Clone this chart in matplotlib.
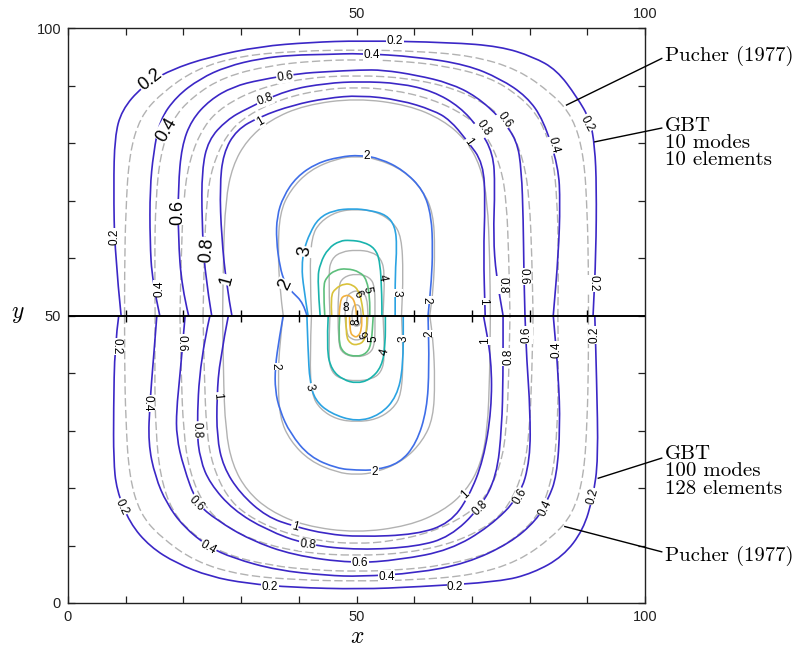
import matplotlib.pyplot as plt
import numpy as np
from matplotlib.path import Path
from matplotlib.patches import PathPatch

plt.rcParams['mathtext.fontset'] = 'cm'

# contour levels and GBT colours
levels = [0.2, 0.4, 0.6, 0.8, 1, 2, 3, 4, 5, 6, 8]
level_colors = ['#3b27c6', '#3b27c6', '#3b27c6', '#3b27c6', '#3b27c6',
                '#3f6ee8', '#2ba3e2', '#19b3ad', '#5dbf7c', '#d9c23a', '#f2b13e']

# GBT, 10 modes / 10 elements (upper half), left -> right
gbt_top_02 = [(9.2, 50), (8.1, 60.9), (7.9, 72.4), (8.1, 81.1), (9.3, 85.7), (12.8, 89.8), (17.7, 92.7),
              (24.6, 95.0), (33.3, 96.8), (41.9, 97.5), (50.6, 97.8), (66.2, 97.5), (74.9, 96.8),
              (80.6, 95.0), (84.7, 92.7), (88.2, 88.0), (90.5, 84.0), (91.3, 79.4), (91.6, 72.4),
              (91.5, 60.8), (91.0, 50)]
gbt_top_04 = [(15.9, 50), (14.6, 56), (14.2, 63), (14.2, 72), (14.8, 78.2), (15.9, 84), (18.8, 88.1),
              (22.9, 91.2), (27.5, 93.3), (33.3, 94.7), (39.0, 95.3), (44.8, 95.4), (50.6, 95.6),
              (60.4, 95.0), (69.1, 93.6), (74.9, 91.2), (79.5, 88.1), (82.4, 84.0), (85.0, 75.9),
              (85.3, 69.5), (85.0, 60.8), (84.1, 50)]
gbt_top_06 = [(20.9, 50), (19.7, 55), (19.1, 63.7), (19.1, 72.4), (19.7, 79.4), (21.4, 84), (24.6, 87.5),
              (28.6, 89.8), (33.3, 91.0), (40.2, 92.1), (44.8, 92.4), (50.6, 92.7), (54.6, 92.7),
              (60.4, 91.8), (66.2, 90.4), (70.8, 88.1), (75.0, 84.3), (77.8, 80.5), (78.6, 75.3),
              (78.9, 66.6), (79.0, 58), (79.2, 50)]
gbt_top_08 = [(24.9, 50), (23.7, 57.3), (23.2, 66.6), (23.2, 75.3), (24.3, 80.5), (27.5, 84), (31.0, 86),
              (37.9, 89.2), (44.8, 90.4), (50.6, 90.7), (57.5, 90.4), (63.3, 89.0), (67.9, 86.3),
              (71.2, 82.6), (73.7, 78.2), (74.0, 72.4), (73.7, 63.7), (74.2, 57), (75.4, 50)]
gbt_top_1 = [(28.4, 50), (27.5, 55), (26.6, 63.7), (26.3, 72.4), (26.9, 78.2), (29.2, 82.3), (33.3, 84.6),
             (39.0, 86.6), (44.8, 87.8), (50.6, 88.3), (57.5, 87.5), (63.3, 85.7), (66.2, 84),
             (69.1, 80.5), (72.0, 76.5), (72.3, 69.5), (72.0, 60.8), (72.3, 50)]
gbt_top_2 = [(41.4, 50), (40.8, 52.2), (38.8, 54.1), (37.6, 55.6), (36.7, 58.5), (36.1, 63.1), (36.2, 67.2),
             (37.3, 70.7), (39.6, 74.1), (43.1, 76.5), (47.1, 77.6), (50.6, 77.9), (54.1, 77.3),
             (58.1, 75.3), (61.6, 71.8), (63.0, 67.2), (63.2, 61.4), (63.0, 56.2), (62.4, 50)]
gbt_top_3 = [(41.6, 50), (40.8, 55), (40.5, 58.5), (40.9, 61.5), (41.9, 64.3), (43.4, 66.9), (46.0, 68.3),
             (49.4, 68.6), (52.3, 68.3), (55.2, 67.5), (56.7, 65.5), (57.0, 62.0), (56.7, 57.3), (56.7, 50)]
gbt_top_4 = [(43.7, 50), (43.2, 56.2), (43.7, 59.1), (45.1, 61.7), (47.1, 63.0), (48.9, 63.1), (51.2, 62.8),
             (53.2, 61.7), (54.1, 59.4), (54.4, 53.3), (54.4, 50)]
gbt_top_5 = [(44.5, 50), (44.2, 55), (44.8, 56.7), (46.3, 57.9), (48.3, 58.2), (50.6, 57.6), (51.8, 56.2),
             (52.3, 53), (52.3, 50)]
gbt_top_6 = [(45.7, 50), (45.5, 53.3), (46.3, 54.7), (48.0, 55.6), (49.4, 55.3), (50.3, 54.4), (50.9, 52.5),
             (51.2, 50)]
gbt_top_8 = [(47.0, 50), (47.1, 52.7), (48.0, 53.6), (49.2, 53.3), (49.8, 52), (50.0, 50)]

# GBT, 100 modes / 128 elements (lower half), left -> right
gbt_bot_02 = [(8.8, 50), (8.1, 44.8), (7.9, 33.6), (7.9, 24.9), (8.4, 19.7), (10.7, 13.9), (14.2, 9.8),
              (18.8, 6.9), (24.6, 4.6), (31.0, 3.4), (39.0, 2.7), (50.6, 2.4), (60.4, 2.8), (74.9, 3.7),
              (80.6, 5.2), (85.8, 8.1), (89.3, 12.7), (91.0, 18.5), (91.9, 24.9), (91.6, 39.4), (91.3, 50)]
gbt_bot_04 = [(15.4, 50), (14.8, 42.3), (14.2, 35), (13.9, 27.8), (15.1, 22), (17.1, 17.3), (20.0, 13.3),
              (24.3, 9.8), (28.6, 7.8), (36.2, 5.7), (44.8, 4.8), (50.6, 4.6), (60.4, 5.2), (69.1, 6.9),
              (76.6, 10.4), (81.2, 14.4), (83.2, 18), (84.7, 22), (85.3, 30.7), (85.0, 39.4), (84.1, 50)]
gbt_bot_06 = [(20.3, 50), (19.4, 39.4), (18.8, 33.6), (18.8, 28.9), (20.0, 23.7), (22.3, 17.3), (25.8, 14.4),
              (31.5, 11.0), (39.0, 8.3), (49.4, 6.9), (57.5, 7.5), (66.2, 9.2), (73.1, 13.3), (78.3, 18.5),
              (80.1, 24.9), (80.1, 33.6), (79.5, 42.3), (79.2, 50)]
gbt_bot_08 = [(24.6, 50), (22.9, 42.3), (22.3, 30.1), (22.9, 24.9), (24.6, 20.8), (28.6, 16.2), (34.4, 12.7),
              (41.4, 10.1), (50.6, 9.2), (60.4, 9.8), (66.2, 11.5), (71.4, 16.5), (74.3, 22),
              (75.2, 30.7), (75.4, 39.4), (75.4, 50)]
gbt_bot_1 = [(27.8, 50), (26.3, 42.3), (25.8, 35.9), (25.8, 28.9), (26.9, 23.7), (29.8, 19.1), (34.4, 15.0),
             (39.3, 13.3), (44.8, 12.0), (50.6, 11.5), (60.4, 11.9), (66.2, 13.9), (69.5, 18.5),
             (72.0, 24.9), (73.4, 33.6), (73.4, 42.3), (72.0, 50)]
gbt_bot_2 = [(37.3, 50), (36.6, 46), (35.9, 41), (35.9, 37), (36.7, 33.5), (38.5, 29.5), (41.9, 25.4),
             (46.6, 23.4), (50.0, 23.1), (53.2, 23.1), (57.5, 24.3), (60.4, 27.8), (62.2, 33.6),
             (62.6, 41), (62.4, 50)]
gbt_bot_3 = [(41.4, 50), (41.6, 44), (41.9, 38.5), (42.8, 35.3), (45.4, 33.0), (50.0, 31.5), (54.1, 32.7),
             (57.0, 35.9), (58.1, 41.1), (58.1, 50)]
gbt_bot_4 = [(45.1, 50), (44.8, 44), (45.7, 40.5), (47.7, 38.8), (50.0, 38.2), (52.3, 38.8), (54.4, 41.1),
             (55.0, 45), (55.0, 50)]
gbt_bot_5 = [(47.1, 50), (46.8, 45.7), (47.7, 43.4), (50.0, 42.8), (51.8, 43.4), (52.6, 45.2), (52.9, 50)]
gbt_bot_6 = [(48.2, 50), (48.1, 46.5), (49.0, 45.0), (50.3, 44.9), (51.4, 45.6), (51.8, 48), (51.8, 50)]
gbt_bot_8 = [(48.8, 50), (48.8, 47.2), (49.5, 46.3), (50.3, 46.3), (50.9, 47.6), (50.9, 50)]

# Pucher (1977), one quarter (upper left), symmetric in x and y
puch_02 = [(9.8, 50), (9.8, 58), (10.0, 68), (10.6, 78), (12.5, 84.5), (16.0, 88.5), (22.0, 92.8),
           (30.0, 95.2), (40.0, 96.0), (50.0, 96.2)]
puch_04 = [(15.1, 50), (15.0, 60), (15.2, 70), (16.0, 78), (18.0, 84), (21.5, 88), (27.0, 91.5),
           (35.0, 93.5), (43.0, 94.3), (50.0, 94.5)]
puch_06 = [(19.4, 50), (19.6, 60), (20.0, 70), (21.0, 77), (23.5, 83), (27.0, 86.5), (33.0, 89.5),
           (41.0, 91.3), (50.0, 91.8)]
puch_08 = [(23.4, 50), (23.6, 60), (24.0, 70), (25.0, 76), (27.5, 81.5), (31.0, 84.8), (37.0, 87.7),
           (44.0, 89.3), (50.0, 89.7)]
puch_1 = [(26.8, 50), (26.9, 60), (27.3, 70), (28.5, 76), (31.0, 80.5), (35.0, 84.0), (41.0, 86.6),
          (50.0, 87.8)]
puch_2 = [(37.3, 50), (36.7, 54.5), (36.4, 61.4), (36.7, 67.8), (38.5, 71.8), (41.9, 75.3), (46.6, 77.3),
          (50.0, 77.7)]
puch_3 = [(42.2, 50), (41.9, 57.3), (42.2, 63.7), (43.7, 66.3), (46.6, 68.1), (50.0, 68.5)]
puch_4 = [(45.4, 50), (45.1, 57.3), (45.7, 59.9), (47.4, 61.1), (50.0, 61.4)]
puch_5 = [(46.8, 50), (46.8, 55), (47.7, 56.7), (50.0, 57.3)]
puch_6 = [(48.0, 50), (48.2, 53.3), (49.2, 54.1), (50.0, 54.3)]
puch_8 = [(49.2, 50), (49.3, 51.5), (50.0, 52.0)]

gbt_top = [gbt_top_02, gbt_top_04, gbt_top_06, gbt_top_08, gbt_top_1, gbt_top_2,
           gbt_top_3, gbt_top_4, gbt_top_5, gbt_top_6, gbt_top_8]
gbt_bot = [gbt_bot_02, gbt_bot_04, gbt_bot_06, gbt_bot_08, gbt_bot_1, gbt_bot_2,
           gbt_bot_3, gbt_bot_4, gbt_bot_5, gbt_bot_6, gbt_bot_8]
pucher = [puch_02, puch_04, puch_06, puch_08, puch_1, puch_2,
          puch_3, puch_4, puch_5, puch_6, puch_8]

# contour labels: level, x, y, rotation, large font
clabels = [
    (0.2, 14.2, 91.0, 38, True), (0.4, 17.1, 82.3, 60, True), (0.6, 19.1, 68.0, 90, True),
    (0.8, 24.0, 61.4, 85, True), (1, 27.5, 56.2, 75, True), (2, 37.6, 55.3, 65, True),
    (3, 41.1, 61.1, 80, True),
    (0.2, 56.7, 97.7, 0, False), (0.4, 52.6, 95.3, 0, False), (0.6, 37.6, 91.5, 8, False),
    (0.8, 34.1, 87.5, 20, False), (1, 33.3, 83.7, 30, False), (0.2, 8.1, 63.7, 90, False),
    (0.4, 15.9, 54.7, 90, False), (2, 51.8, 77.7, 0, False), (0.2, 89.9, 83.4, -62, False),
    (0.4, 84.1, 79.7, -75, False), (0.6, 75.6, 84.0, -55, False), (0.8, 72.0, 82.6, -55, False),
    (1, 69.4, 80.2, -55, False), (0.2, 91.0, 55.6, -90, False), (0.6, 78.9, 56.8, -90, False),
    (0.8, 75.3, 55.3, -90, False), (1, 71.9, 52.4, -90, False), (2, 62.2, 52.7, -90, False),
    (3, 57.0, 53.9, -90, False), (4, 54.4, 56.5, -80, False), (5, 51.9, 54.4, -80, False),
    (6, 50.2, 53.6, -60, False), (8, 48.2, 51.3, 0, False),
    (0.2, 8.4, 44.6, -90, False), (0.6, 19.7, 45.2, -90, False), (0.4, 13.7, 34.7, -90, False),
    (1, 25.8, 36.0, -85, False), (0.8, 22.3, 30.1, -88, False), (2, 35.9, 41.1, -90, False),
    (3, 41.9, 37.5, -75, False), (0.2, 9.3, 16.7, -65, False), (0.6, 22.3, 17.3, -45, False),
    (0.4, 24.3, 9.7, -30, False), (1, 39.3, 13.3, -15, False), (0.8, 41.5, 10.1, -5, False),
    (0.2, 35.0, 2.8, 0, False), (0.6, 50.6, 7.0, 0, False), (0.4, 55.2, 4.6, 0, False),
    (0.2, 67.1, 2.8, 0, False), (2, 53.2, 22.8, 0, False), (1, 68.8, 18.8, 45, False),
    (0.8, 71.4, 16.5, 45, False), (0.6, 78.3, 18.5, 60, False), (0.4, 82.7, 16.5, 65, False),
    (0.2, 91.0, 18.5, 75, False), (2, 62.7, 46.9, 90, False), (1, 72.3, 45.6, 90, False),
    (0.8, 76.3, 42.8, 90, False), (0.6, 79.5, 46.6, 90, False), (0.4, 84.6, 44.1, 90, False),
    (0.2, 91.3, 46.6, 90, False), (3, 58.1, 46.0, 90, False), (4, 54.9, 43.7, 75, False),
    (5, 52.9, 46.0, 90, False), (6, 51.5, 46.9, 120, False), (8, 50.0, 48.9, 90, False),
]


def mirrored(quarter, top=True):
    # mirror a quarter curve about x = 50 (and about y = 50 for the lower half)
    q = np.array(quarter, dtype=float)
    right = q[::-1].copy()
    right[:, 0] = 100 - right[:, 0]
    pts = np.vstack([q, right[1:]])
    if not top:
        pts[:, 1] = 100 - pts[:, 1]
    return pts


def smooth_line(ax, pts, **kw):
    # quadratic bezier through the midpoints, the given points act as control points
    pts = np.asarray(pts, dtype=float)
    verts = [pts[0]]
    codes = [Path.MOVETO]
    for i in range(1, len(pts) - 1):
        verts += [pts[i], (pts[i] + pts[i + 1]) / 2]
        codes += [Path.CURVE3, Path.CURVE3]
    verts.append(pts[-1])
    codes.append(Path.LINETO)
    ax.add_patch(PathPatch(Path(verts, codes), fill=False, **kw))


fig = plt.figure(figsize=(8.02, 6.5), dpi=100)
ax = fig.add_axes([68 / 802, 47 / 650, 577 / 802, 575 / 650])

# Pucher (1977) reference solution
for lev, quarter in zip(levels, pucher):
    ls = (0, (6, 2.5)) if lev < 1 else '-'
    for top in (True, False):
        smooth_line(ax, mirrored(quarter, top), edgecolor='#b2b2b2', lw=1.0, ls=ls, zorder=2)

# GBT solutions
for lev, col, up, low in zip(levels, level_colors, gbt_top, gbt_bot):
    for curve in (up, low):
        smooth_line(ax, curve, edgecolor=col, lw=1.2, zorder=3)

for lev, x, y, rot, big in clabels:
    box = None if lev >= 4 else dict(facecolor='white', edgecolor='none', pad=0.3)
    ax.text(x, y, '%g' % lev, fontsize=13 if big else 8.5, rotation=rot,
            rotation_mode='anchor', ha='center', va='center', family='Liberation Sans',
            bbox=box, zorder=4)

# dividing line between the two GBT meshes
ax.axhline(50, color='black', lw=1.4, zorder=5)
ax.plot(np.arange(10, 100, 10), np.full(9, 50), ls='none', marker='|', ms=9,
        mew=1.0, color='black', zorder=5)

ax.set_xlim(0, 100)
ax.set_ylim(0, 100)
ax.set_xticks([0, 50, 100])
ax.set_yticks([0, 50, 100])
ax.set_xticks(np.arange(0, 101, 10), minor=True)
ax.set_yticks(np.arange(0, 101, 10), minor=True)
ax.tick_params(which='both', direction='in', length=5, width=0.9, top=True, right=True,
               labelsize=10.5, colors='#222222', labeltop=True, pad=5)
for lab in ax.get_xticklabels() + ax.get_yticklabels():
    lab.set_family('Liberation Sans')
for t in ax.xaxis.get_major_ticks():
    t.label2.set_family('Liberation Sans')
ax.xaxis.get_major_ticks()[0].label2.set_visible(False)
for sp in ax.spines.values():
    sp.set_linewidth(1.0)
    sp.set_color('#222222')

fig.text(357 / 802, 1 - 636 / 650, '$x$', fontsize=17, ha='center', va='center')
fig.text(18 / 802, 1 - 313 / 650, '$y$', fontsize=17, ha='center', va='center')

# leader lines and captions on the right
serif = 'cmr10'
notes = [
    ((86.4, 86.6), (102.9, 94.7), ['Pucher (1977)'], 94.2),
    ((91.3, 80.2), (102.9, 82.6), ['GBT', '10 modes', '10 elements'], 82.1),
    ((91.9, 21.7), (102.9, 25.2), ['GBT', '100 modes', '128 elements'], 25.0),
    ((86.1, 13.3), (102.9, 8.9), ['Pucher (1977)'], 7.4),
]
for (x0, y0), (x1, y1), lines, base in notes:
    ax.plot([x0, x1], [y0, y1], color='black', lw=1.0, clip_on=False, zorder=6)
    for i, s in enumerate(lines):
        ax.text(103.5, base - i * 3.0, s, fontsize=15, family=serif, ha='left', va='baseline',
                clip_on=False)

fig.savefig('out.png', dpi=100)
